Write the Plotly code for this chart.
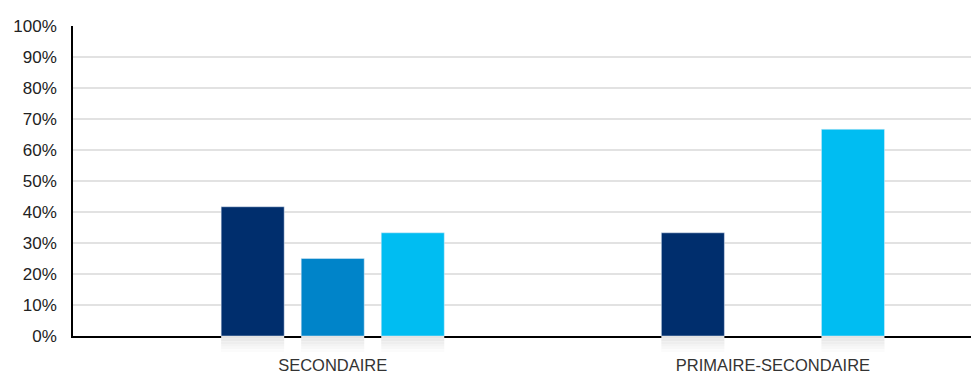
import plotly.graph_objects as go

categories = ["SECONDAIRE", "PRIMAIRE-SECONDAIRE"]
series_names = ["Série 1", "Série 2", "Série 3"]
series_values = [
    [41.7, 33.3],
    [25.0, 0.0],
    [33.3, 66.7],
]
colors = ["#002e6d", "#0084c9", "#00bdf2"]
y_ticks = list(range(0, 101, 10))
y_tick_labels = [f"{v}%" for v in y_ticks]
reflection_colors = ["#e4e4e4", "#e9e9e9", "#eeeeee", "#f3f3f3", "#f7f7f7", "#fbfbfb"]

fig = go.Figure()
for i, (name, vals) in enumerate(zip(series_names, series_values)):
    fig.add_trace(go.Bar(
        x=categories, y=[v if v > 0 else None for v in vals], name=name,
        marker_color=colors[i],
        offsetgroup=str(i), xaxis="x", yaxis="y", showlegend=False,
    ))
    # soft reflection under each visible bar
    n = len(reflection_colors)
    for k, c in enumerate(reflection_colors):
        fig.add_trace(go.Bar(
            x=categories,
            y=[(-1.0 / n) if v > 0 else None for v in vals],
            base=[(-k / n) if v > 0 else None for v in vals],
            marker_color=c, marker_line_width=0,
            offsetgroup=str(i), xaxis="x", yaxis="y2", showlegend=False,
            hoverinfo="skip",
        ))

fig.update_layout(
    width=971, height=373,
    margin=dict(l=73, r=0, t=26, b=21, autoexpand=False),
    plot_bgcolor="white", paper_bgcolor="white",
    barmode="group", bargap=0.4545, bargroupgap=0.2125,
    font=dict(family="Liberation Sans, Arial, sans-serif", color="#222"),
    xaxis=dict(
        type="category", range=[-0.59, 1.45], anchor="y", automargin=False,
        showline=True, linecolor="#000", linewidth=1.5,
        showgrid=False, ticks="", ticklabelstandoff=13,
        tickfont=dict(size=16.5, color="#333"),
    ),
    yaxis=dict(
        domain=[0.049, 1], range=[0, 100], automargin=False,
        tickmode="array", tickvals=y_ticks, ticktext=y_tick_labels,
        showline=True, linecolor="#000", linewidth=1.5,
        showgrid=True, gridcolor="#e2e2e2", gridwidth=1.6,
        zeroline=False, ticks="", ticklabelstandoff=11,
        tickfont=dict(size=17, color="#222"),
    ),
    yaxis2=dict(
        domain=[0, 0.049], range=[-1, 0], anchor="x", automargin=False,
        visible=False, showgrid=False, zeroline=False,
    ),
)

fig.write_html(
    "out.html",
    config={"displayModeBar": False},
    post_script="document.body.style.margin='0';document.body.style.overflow='hidden';",
)
